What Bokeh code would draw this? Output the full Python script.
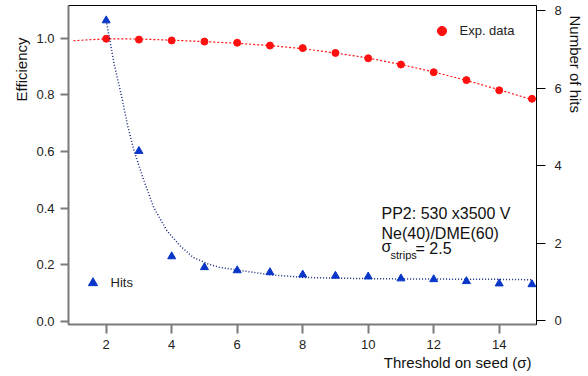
from bokeh.plotting import figure
from bokeh.models import (Range1d, LinearAxis, Label, Legend, LegendItem,
                          FixedTicker, PrintfTickFormatter, Title)
from bokeh.embed import file_html
from bokeh.resources import INLINE

# ---- data ----
threshold = [2, 3, 4, 5, 6, 7, 8, 9, 10, 11, 12, 13, 14, 15]
efficiency = [0.998, 0.995, 0.992, 0.988, 0.984, 0.974, 0.965, 0.948,
              0.929, 0.907, 0.880, 0.852, 0.816, 0.786]
hits = [7.75, 4.38, 1.66, 1.38, 1.30, 1.25, 1.19, 1.16, 1.14, 1.09,
        1.07, 1.02, 0.96, 0.94]

eff_fit_x = [1, 2, 3, 4, 5, 6, 7, 8, 9, 10, 11, 12, 13, 14, 15]
eff_fit_y = [0.991, 0.998, 0.997, 0.993, 0.988, 0.982, 0.974, 0.963,
             0.948, 0.930, 0.907, 0.881, 0.851, 0.818, 0.783]

hits_fit_x = [2.0, 2.25, 2.5, 2.65, 2.85, 3.15, 3.45, 3.85, 4.25, 4.65,
              5.1, 5.45, 6.0, 7.0, 8.0, 9.0, 10.0, 11.0, 12.0, 13.0, 14.0, 15.0]
hits_fit_y = [7.75, 6.6, 5.68, 5.05, 4.39, 3.62, 2.93, 2.33, 1.94, 1.64,
              1.47, 1.38, 1.31, 1.19, 1.12, 1.10, 1.09, 1.08, 1.08, 1.07, 1.07, 1.06]

x_ticks = [2, 4, 6, 8, 10, 12, 14]
eff_ticks = [0.0, 0.2, 0.4, 0.6, 0.8, 1.0]
hits_ticks = [0, 2, 4, 6, 8]

# ---- layout ----
FONT = "Liberation Sans"
X0, X1 = 0.849, 15.139
YL0, YL1 = -0.0106, 1.1154
YR0, YR1 = -0.0955, 8.137
FL, FR, FT, FB = 68, 536, 5, 324   # frame edges in page pixels
W, H = 588, 376


def dx(px):
    return X0 + (px - FL) / (FR - FL) * (X1 - X0)


def dy(py):
    return YL0 + (FB - py) / (FB - FT) * (YL1 - YL0)


p = figure(width=W, height=H, output_backend="svg", toolbar_location=None,
           x_range=Range1d(X0, X1), y_range=Range1d(YL0, YL1),
           min_border_left=FL, min_border_right=W - FR, min_border_top=FT,
           min_border_bottom=H - FB)
p.title.visible = False
p.extra_y_ranges = {"hits": Range1d(YR0, YR1)}
p.xgrid.visible = False
p.ygrid.visible = False
p.background_fill_color = "white"
p.border_fill_color = "white"
p.outline_line_color = "black"
p.outline_line_width = 1
p.outline_line_alpha = 1

GRAY = "#7a7a7a"
for ax in (p.xaxis[0], p.yaxis[0]):
    ax.axis_line_color = GRAY
    ax.axis_line_width = 2
    ax.major_tick_line_color = GRAY
    ax.major_tick_line_width = 2
    ax.major_tick_in = 0
    ax.minor_tick_line_color = None
    ax.major_label_text_font = FONT
    ax.major_label_text_font_size = "13px"
    ax.major_label_text_color = "#222222"
    ax.major_label_standoff = 6

p.xaxis[0].ticker = FixedTicker(ticks=x_ticks)
p.xaxis[0].major_tick_out = 9
p.yaxis[0].ticker = FixedTicker(ticks=eff_ticks)
p.yaxis[0].formatter = PrintfTickFormatter(format="%.1f")
p.yaxis[0].major_tick_out = 8

rax = LinearAxis(y_range_name="hits", ticker=FixedTicker(ticks=hits_ticks))
rax.axis_line_color = "black"
rax.axis_line_width = 1
rax.major_tick_line_color = "black"
rax.major_tick_line_width = 1
rax.major_tick_in = 0
rax.major_tick_out = 9
rax.minor_tick_line_color = None
rax.major_label_text_font = FONT
rax.major_label_text_font_size = "13px"
rax.major_label_text_color = "#222222"
rax.major_label_standoff = 9
p.add_layout(rax, "right")

# axis titles placed as side titles so they can sit off-centre
TITLE_STYLE = dict(text_font=FONT, text_font_size="15px", text_color="#111111",
                   text_font_style="normal")
p.add_layout(Title(text="Efficiency", align="right", offset=32, standoff=8,
                   **TITLE_STYLE), "left")
p.add_layout(Title(text="Number of hits", align="left", offset=10, standoff=4,
                   **TITLE_STYLE), "right")
p.add_layout(Title(text="Threshold on seed (\u03c3)", align="right", offset=5,
                   standoff=0, **TITLE_STYLE), "below")

RED = "#ff1010"
BLUE = "#0836c8"

p.line(eff_fit_x, eff_fit_y, line_color=RED, line_width=1.2, line_dash="2 2")
r_eff = p.scatter(threshold, efficiency, marker="circle", size=7,
                  fill_color=RED, line_color=RED)

p.line(hits_fit_x, hits_fit_y, y_range_name="hits", line_color="#14247a",
       line_width=1.5, line_dash="1 2")
r_hits = p.scatter(threshold, hits, y_range_name="hits", marker="triangle",
                   size=8, fill_color=BLUE, line_color=BLUE)


def make_legend(label, renderer, loc):
    lg = Legend(items=[LegendItem(label=label, renderers=[renderer])],
                location=loc, orientation="vertical",
                border_line_color=None, background_fill_alpha=0,
                padding=0, margin=0, spacing=0,
                glyph_width=23, glyph_height=23, label_standoff=7,
                label_text_font=FONT, label_text_font_size="13px",
                label_text_color="#222222")
    p.add_layout(lg, "center")


make_legend("Exp. data", r_eff, (361.5, 282.5))
make_legend("Hits", r_hits, (12.5, 30.2))


def add_text(txt, px, py, size, align="left", baseline="middle"):
    p.add_layout(Label(x=dx(px), y=dy(py), text=txt, text_font=FONT,
                       text_font_size=size, text_color="#111111",
                       text_align=align, text_baseline=baseline))


add_text("PP2: 530 x3500 V", 381, 213, "16px")
add_text("Ne(40)/DME(60)", 381, 233, "16px")
add_text("\u03c3", 381, 246, "16px")
add_text("strips", 390, 254, "11px")
add_text("= 2.5", 415, 248, "16px")

open("out.html", "w").write(file_html(p, INLINE))
